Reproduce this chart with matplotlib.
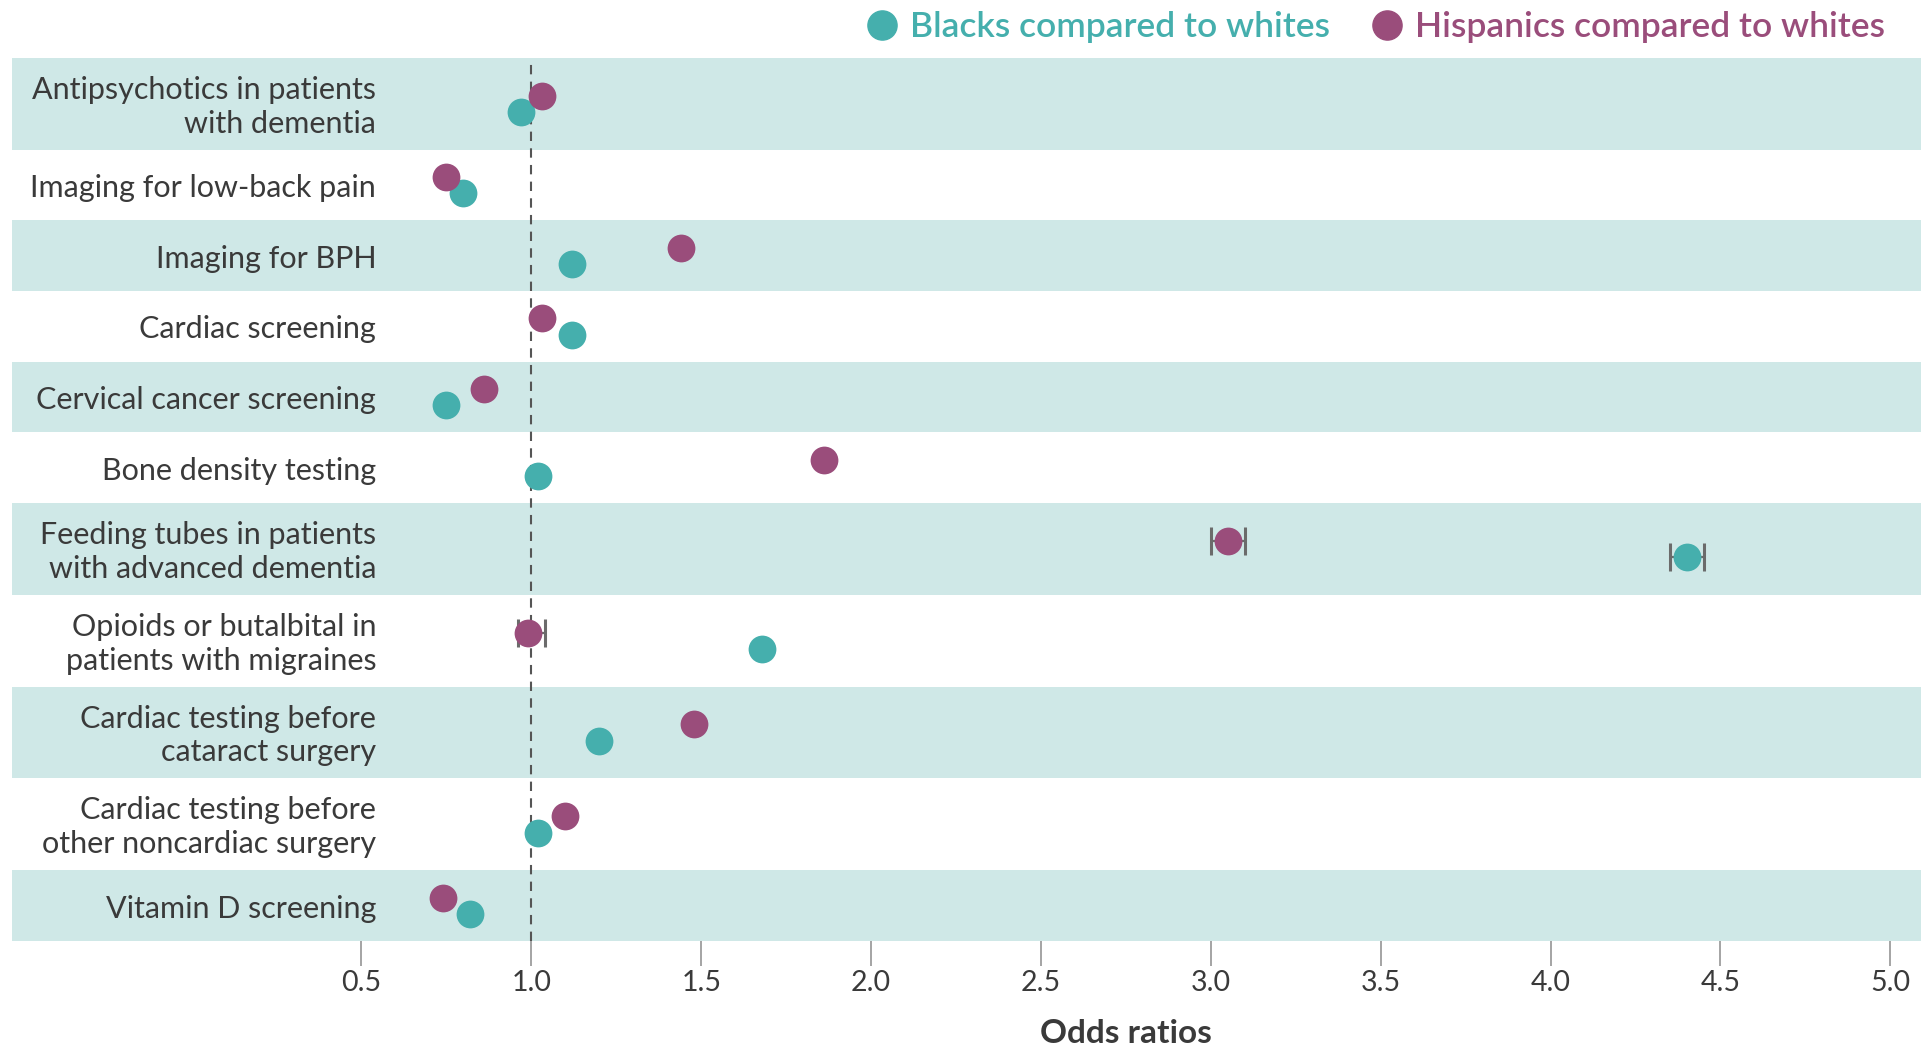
import matplotlib
matplotlib.use("Agg")
import matplotlib.pyplot as plt
import matplotlib.transforms as mtransforms
from matplotlib.lines import Line2D
import numpy as np

categories = [
    "Antipsychotics in patients\nwith dementia",
    "Imaging for low-back pain",
    "Imaging for BPH",
    "Cardiac screening",
    "Cervical cancer screening",
    "Bone density testing",
    "Feeding tubes in patients\nwith advanced dementia",
    "Opioids or butalbital in\npatients with migraines",
    "Cardiac testing before\ncataract surgery",
    "Cardiac testing before\nother noncardiac surgery",
    "Vitamin D screening",
]
blacks = [0.97, 0.80, 1.12, 1.12, 0.75, 1.02, 4.40, 1.68, 1.20, 1.02, 0.82]
hispanics = [1.03, 0.75, 1.44, 1.03, 0.86, 1.86, 3.05, 0.99, 1.48, 1.10, 0.74]
nan = float("nan")
blacks_lo = [nan, nan, nan, nan, nan, nan, 4.35, nan, nan, nan, nan]
blacks_hi = [nan, nan, nan, nan, nan, nan, 4.45, nan, nan, nan, nan]
hisp_lo = [nan, nan, nan, nan, nan, nan, 3.00, 0.96, nan, nan, nan]
hisp_hi = [nan, nan, nan, nan, nan, nan, 3.10, 1.04, nan, nan, nan]
xticks = [0.5, 1.0, 1.5, 2.0, 2.5, 3.0, 3.5, 4.0, 4.5, 5.0]
legend_labels = ["Blacks compared to whites", "Hispanics compared to whites"]

TEAL = "#45AFAD"
PURPLE = "#9A4D7B"
BAND = "#CFE8E7"
TEXT = "#3A3A3A"
FONT = ["Lato", "DejaVu Sans"]

plt.rcParams["font.family"] = FONT

fig = plt.figure(figsize=(19.21, 10.49), dpi=100)
ax = fig.add_axes([0.0064, 0.1031, 0.9936, 0.945 - 0.1031])

# variable row heights: two-line rows taller
heights = np.array([75.0 if "\n" in c else 57.7 for c in categories])
bottoms = np.cumsum(heights)
tops = bottoms - heights
centers = tops + heights / 2
total = bottoms[-1]

for i in range(len(categories)):
    if i % 2 == 0:
        ax.axhspan(tops[i], bottoms[i], color=BAND, lw=0, zorder=0)

ax.axvline(1.0, color="#555555", ls=(0, (4.5, 3.5)), lw=1.5, zorder=1)

off_h = -6.5
off_b = 7.0
yb = centers + off_b
yh = centers + off_h

# error bars
for vals, lo, hi, ys in [(blacks, blacks_lo, blacks_hi, yb), (hispanics, hisp_lo, hisp_hi, yh)]:
    for v, l, h, y in zip(vals, lo, hi, ys):
        if not np.isnan(l):
            ax.errorbar([v], [y], xerr=[[v - l], [h - v]], fmt="none",
                        ecolor="#6b6b6b", elinewidth=1.6, capsize=10, capthick=2.2, zorder=2)

ax.scatter(blacks, yb, s=400, color=TEAL, zorder=3, lw=0)
ax.scatter(hispanics, yh, s=400, color=PURPLE, zorder=3, lw=0)

xmin = 0.5 - (295 - 10) / 277.3
xmax = 5.0 + (1568 - 1543) / 277.3
ax.set_xlim(xmin, xmax)
ax.set_ylim(total, 0)

for s in ax.spines.values():
    s.set_visible(False)
ax.set_yticks([])
ax.set_xticks(xticks)
ax.set_xticklabels([f"{t:.1f}" for t in xticks])
ax.tick_params(axis="x", direction="out", length=18, width=1.1, color="#8c8c8c",
               labelsize=20.5, labelcolor=TEXT, pad=3)

lbl_x = 0.5 + (307 - 295) / 277.3
for c, y in zip(categories, centers):
    ax.text(lbl_x, y + 2.5, c, ha="right", va="center", fontsize=22, color=TEXT,
            linespacing=1.25, zorder=4)

trans = mtransforms.blended_transform_factory(ax.transData, fig.transFigure)
ax.text(2.75, 1 - 843 / 856, "Odds ratios", transform=trans, ha="center", va="center",
        fontsize=24, fontweight="bold", color=TEXT)

handles = [Line2D([], [], marker="o", ls="none", color=TEAL, markersize=21),
           Line2D([], [], marker="o", ls="none", color=PURPLE, markersize=21)]
leg = fig.legend(handles, legend_labels, loc="center right",
                 bbox_to_anchor=(1537 / 1568 + 0.001, 1 - 22 / 856), ncol=2, frameon=False,
                 borderpad=0, borderaxespad=0, handletextpad=0.3, columnspacing=1.1,
                 handlelength=1.0, prop={"size": 25.5, "weight": "semibold"},
                 labelcolor=[TEAL, PURPLE])

fig.savefig("out.png", dpi=100)
